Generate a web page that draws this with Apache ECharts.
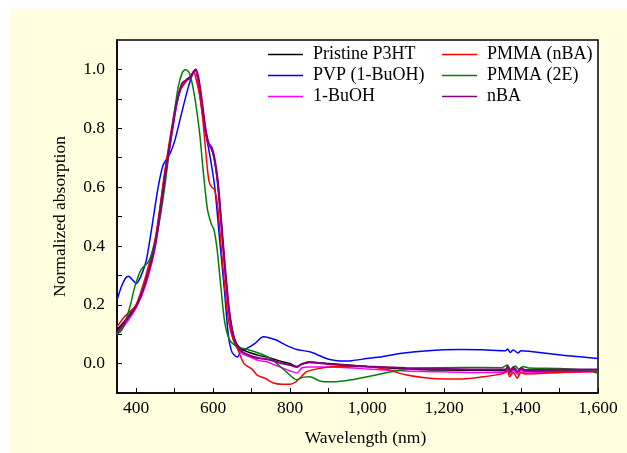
<!DOCTYPE html>
<html>
<head>
<meta charset="utf-8">
<script src="https://cdn.jsdelivr.net/npm/echarts@6/dist/echarts.min.js"></script>
<style>
  html, body { margin: 0; padding: 0; background: #ffffff; }
  #bg { position: absolute; left: 9px; top: 9px; width: 618px; height: 444px; background: #FFFFE0; }
  #chart { position: absolute; left: 0; top: 0; width: 627px; height: 453px; }
</style>
</head>
<body>
<div id="bg"></div>
<div id="chart"></div>
<script>
// ---- data (wavelength nm, normalized absorption) ----
const seriesNames = ['Pristine P3HT', 'PVP (1-BuOH)', '1-BuOH', 'PMMA (nBA)', 'PMMA (2E)', 'nBA'];
const seriesColors = ['#000000', '#0000FF', '#FF00FF', '#FF0000', '#008000', '#800080'];

const pristineP3HT = [
  [350,0.115],[370,0.145],[400,0.20],[425,0.285],[450,0.42],[475,0.65],[500,0.85],[510,0.91],[520,0.95],
  [530,0.965],[540,0.975],[548,0.99],[553,1.0],[560,0.97],[570,0.89],[580,0.79],[588,0.745],[595,0.73],
  [602,0.70],[610,0.63],[620,0.49],[630,0.33],[640,0.19],[650,0.11],[660,0.07],[675,0.048],[700,0.035],
  [720,0.027],[740,0.022],[760,0.014],[780,0.006],[800,0.0],[817,-0.01],[830,-0.002],[850,0.004],[900,0.0],
  [1000,-0.01],[1100,-0.018],[1200,-0.022],[1300,-0.023],[1360,-0.024],[1365,-0.015],[1370,-0.03],
  [1380,-0.018],[1390,-0.03],[1400,-0.02],[1410,-0.025],[1500,-0.025],[1600,-0.026]
];
const pvp1BuOH = [
  [350,0.215],[361,0.26],[372,0.29],[380,0.297],[392,0.282],[400,0.272],[413,0.30],[426,0.35],[439,0.45],
  [457,0.60],[470,0.675],[487,0.712],[500,0.757],[517,0.847],[535,0.938],[548,0.99],[555,1.0],[565,0.915],
  [578,0.80],[591,0.71],[604,0.60],[617,0.418],[630,0.237],[639,0.10],[647,0.045],[655,0.028],[663,0.022],
  [673,0.045],[686,0.051],[708,0.068],[730,0.091],[745,0.088],[764,0.08],[790,0.062],[817,0.048],[851,0.04],
  [880,0.025],[903,0.014],[929,0.009],[960,0.01],[999,0.017],[1033,0.022],[1085,0.034],[1150,0.043],
  [1241,0.048],[1300,0.047],[1360,0.044],[1365,0.05],[1372,0.038],[1380,0.046],[1392,0.036],[1400,0.044],
  [1420,0.042],[1509,0.028],[1560,0.022],[1600,0.017]
];
const buOH = [
  [350,0.10],[370,0.13],[400,0.19],[425,0.27],[450,0.40],[475,0.63],[500,0.84],[510,0.91],[520,0.95],
  [530,0.962],[540,0.972],[548,0.99],[554,1.0],[560,0.97],[570,0.89],[580,0.79],[588,0.745],[596,0.73],
  [603,0.70],[612,0.62],[620,0.49],[630,0.33],[640,0.18],[650,0.10],[660,0.06],[675,0.035],[700,0.02],
  [720,0.01],[740,0.006],[760,-0.005],[780,-0.015],[800,-0.025],[818,-0.032],[830,-0.015],[850,-0.012],
  [900,-0.012],[1000,-0.018],[1100,-0.025],[1200,-0.028],[1300,-0.03],[1360,-0.03],[1365,-0.018],
  [1372,-0.04],[1380,-0.022],[1392,-0.038],[1400,-0.022],[1410,-0.032],[1500,-0.03],[1600,-0.028]
];
const pmmaNBA = [
  [350,0.125],[370,0.16],[390,0.185],[400,0.20],[425,0.30],[450,0.43],[475,0.66],[500,0.86],[515,0.93],
  [530,0.96],[540,0.972],[550,0.99],[555,0.97],[565,0.91],[572,0.84],[578,0.76],[585,0.66],[590,0.615],
  [596,0.60],[604,0.59],[612,0.53],[620,0.41],[630,0.26],[640,0.145],[652,0.08],[665,0.045],[680,0.0],
  [700,-0.018],[715,-0.04],[735,-0.05],[756,-0.066],[780,-0.07],[800,-0.07],[815,-0.062],[825,-0.05],
  [842,-0.028],[870,-0.018],[912,-0.011],[1000,-0.01],[1050,-0.02],[1100,-0.038],[1150,-0.048],
  [1200,-0.052],[1250,-0.052],[1300,-0.045],[1350,-0.035],[1365,-0.025],[1370,-0.045],[1380,-0.03],
  [1390,-0.05],[1400,-0.03],[1410,-0.035],[1500,-0.03],[1600,-0.026]
];
const pmma2E = [
  [350,0.10],[360,0.11],[370,0.135],[385,0.20],[396,0.26],[413,0.32],[431,0.345],[444,0.39],[457,0.46],
  [474,0.60],[491,0.78],[509,0.94],[520,0.99],[528,1.0],[539,0.985],[552,0.905],[565,0.78],[574,0.655],
  [585,0.525],[595,0.475],[602,0.455],[610,0.39],[620,0.26],[630,0.14],[643,0.08],[665,0.056],[690,0.048],
  [708,0.04],[734,0.028],[756,0.011],[790,-0.028],[817,-0.055],[835,-0.046],[851,-0.045],[877,-0.059],
  [912,-0.062],[960,-0.055],[1000,-0.045],[1085,-0.023],[1150,-0.015],[1250,-0.013],[1350,-0.014],
  [1365,-0.005],[1372,-0.02],[1385,-0.008],[1395,-0.02],[1405,-0.01],[1420,-0.015],[1500,-0.017],
  [1580,-0.025],[1600,-0.033]
];
const nBA = [
  [350,0.105],[370,0.14],[400,0.195],[425,0.28],[450,0.41],[475,0.64],[500,0.85],[510,0.915],[520,0.955],
  [530,0.963],[540,0.972],[548,0.99],[555,1.0],[562,0.97],[570,0.90],[580,0.80],[588,0.75],[596,0.735],
  [603,0.70],[612,0.62],[620,0.50],[630,0.34],[640,0.20],[650,0.11],[660,0.065],[675,0.04],[700,0.025],
  [720,0.018],[740,0.015],[760,0.008],[780,0.0],[800,-0.005],[817,-0.012],[830,-0.002],[850,0.005],
  [900,-0.002],[1000,-0.01],[1100,-0.015],[1200,-0.018],[1300,-0.02],[1360,-0.02],[1365,-0.01],
  [1372,-0.028],[1380,-0.012],[1392,-0.028],[1400,-0.014],[1410,-0.022],[1500,-0.02],[1600,-0.02]
];
const seriesData = [pristineP3HT, pvp1BuOH, buOH, pmmaNBA, pmma2E, nBA];

const xTickLabels = [400, 600, 800, 1000, 1200, 1400, 1600];
const xTicks = [400, 500, 600, 700, 800, 900, 1000, 1100, 1200, 1300, 1400, 1500, 1600];
const yTickLabels = [0.0, 0.2, 0.4, 0.6, 0.8, 1.0];
const yTicks = [0.0, 0.1, 0.2, 0.3, 0.4, 0.5, 0.6, 0.7, 0.8, 0.9, 1.0];

const FONT = "'Liberation Serif', 'Times New Roman', Times, serif";
const chart = echarts.init(document.getElementById('chart'), null, { renderer: 'canvas' });

function commas(v) { return String(Math.round(v)).replace(/\B(?=(\d{3})+(?!\d))/g, ','); }

const legendCommon = {
  orient: 'vertical', itemWidth: 35, itemHeight: 1.5, itemGap: 0, padding: 0, selectedMode: false, icon: 'rect',
  textStyle: { fontFamily: FONT, fontSize: 18, color: '#000', lineHeight: 21, padding: [0, 0, 0, 5] }
};

chart.setOption({
  backgroundColor: 'transparent',
  animation: false,
  grid: { left: 117, right: 29, top: 40, bottom: 60, show: true, backgroundColor: '#ffffff', borderColor: '#000', borderWidth: 1.5 },
  legend: [
    Object.assign({ left: 268, top: 44, data: seriesNames.slice(0, 3) }, legendCommon),
    Object.assign({ left: 442, top: 44, data: seriesNames.slice(3, 6) }, legendCommon)
  ],
  xAxis: {
    type: 'value', min: 350, max: 1600,
    name: 'Wavelength (nm)', nameLocation: 'middle', nameGap: 36,
    nameTextStyle: { fontFamily: FONT, fontSize: 17.5, color: '#000', padding: [0, 0, 0, 16] },
    axisLine: { onZero: false, lineStyle: { color: '#000', width: 1.5 } },
    axisTick: { inside: true, length: 5, customValues: xTicks, lineStyle: { color: '#000', width: 1 } },
    axisLabel: { customValues: xTickLabels, margin: 6, fontFamily: FONT, fontSize: 17.5, color: '#000', formatter: commas },
    splitLine: { show: false }
  },
  yAxis: {
    type: 'value', min: -0.1, max: 1.1,
    name: 'Normalized absorption', nameLocation: 'middle', nameGap: 48,
    nameTextStyle: { fontFamily: FONT, fontSize: 17.5, color: '#000' },
    axisLine: { onZero: false, lineStyle: { color: '#000', width: 1.5 } },
    axisTick: { inside: true, length: 5, customValues: yTicks, lineStyle: { color: '#000', width: 1 } },
    axisLabel: { customValues: yTickLabels, margin: 12, fontFamily: FONT, fontSize: 17.5, color: '#000', formatter: v => v.toFixed(1) },
    splitLine: { show: false }
  },
  series: seriesNames.map((n, i) => ({
    name: n, type: 'line', data: seriesData[i], symbol: 'none', smooth: 0.25,
    lineStyle: { color: seriesColors[i], width: i === 5 ? 2 : 1.5 },
    itemStyle: { color: seriesColors[i] }
  }))
});
</script>
</body>
</html>
